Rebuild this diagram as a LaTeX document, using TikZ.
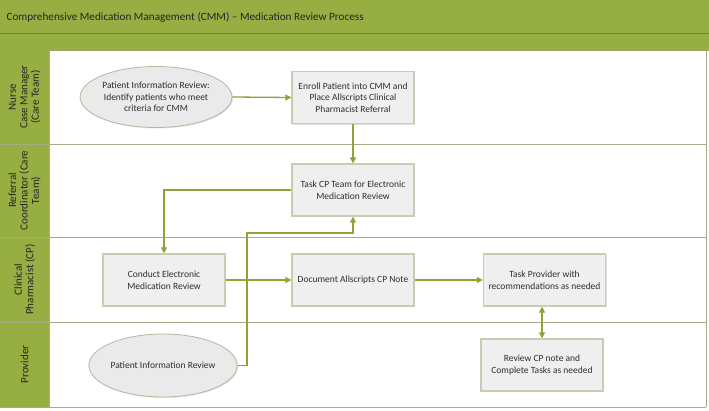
\documentclass[tikz,border=0pt]{standalone}
\usepackage{fontspec}
\setmainfont{Carlito}
\usetikzlibrary{arrows.meta,shapes.geometric,shadows}
\definecolor{olive}{HTML}{96AE42}
\definecolor{darkolive}{HTML}{6E8330}
\definecolor{laneline}{HTML}{A3AC86}
\definecolor{conn}{HTML}{8DA536}
\definecolor{boxfill}{HTML}{EFEFEF}
\definecolor{ovalfill}{HTML}{EAEAEA}
\definecolor{boxline}{HTML}{C8CCB2}
\definecolor{ovalline}{HTML}{B5B99C}
\definecolor{txt}{HTML}{2E2E2E}
\tikzset{
  stepbox/.style={draw=boxline, line width=1.2pt, fill=boxfill, minimum width=122pt, minimum height=52pt,
    align=center, font=\fontsize{9.5}{11.6}\selectfont, text=txt,
    drop shadow={shadow xshift=1pt, shadow yshift=-1pt, fill=black!25}},
  startoval/.style={ellipse, draw=ovalline, line width=0.8pt, fill=ovalfill, minimum width=132pt, minimum height=61pt,
    align=center, font=\fontsize{9.5}{11.6}\selectfont, text=txt, inner sep=0pt,
    drop shadow={shadow xshift=1pt, shadow yshift=-1pt, fill=black!20}},
  lanelabel/.style={rotate=90, align=center, font=\fontsize{11}{11.5}\selectfont, text=black!85},
  flow/.style={draw=conn, line width=1.3pt, -{Triangle[width=6pt,length=6pt]}},
  biflow/.style={draw=conn, line width=1.3pt, {Triangle[width=6pt,length=6pt]}-{Triangle[width=6pt,length=6pt]}},
}
\begin{document}
\begin{tikzpicture}[x=1pt,y=-1pt]
\useasboundingbox (0,0) rectangle (709,410);
\fill[white] (0,0) rectangle (709,410);
% header bars
\fill[olive] (0,0) rectangle (709,50);
\draw[darkolive, line width=1pt] (0,33) -- (709,33);
\draw[darkolive!70, line width=0.8pt] (0,50) -- (709,50);
\node[anchor=west, font=\fontsize{11.2}{13}\selectfont, text=black!85] (title) at (3,17) {Comprehensive Medication Management (CMM) -- Medication Review Process};
% lane label column
\fill[olive] (0,50) rectangle (49,407);
% lane lines
\draw[laneline, line width=1pt] (0,144) -- (706,144);
\draw[laneline, line width=1pt] (0,237) -- (706,237);
\draw[laneline, line width=1pt] (0,322) -- (706,322);
\draw[laneline, line width=1pt] (0,407) -- (706,407);
\draw[laneline, line width=1pt] (706,50) -- (706,407);
\draw[laneline, line width=1pt] (49,50) -- (49,407);
% lane labels
\node[lanelabel] (l1) at (24.5,97) {Nurse\\Case Manager\\(Care Team)};
\node[lanelabel] (l2) at (24.5,190.5) {Referral\\Coordinator (Care\\Team)};
\node[lanelabel] (l3) at (24.5,279.5) {Clinical\\Pharmacist (CP)};
\node[lanelabel] (l4) at (24.5,364.5) {Provider};
% nodes
\node[startoval] (pir1) at (156,97) {Patient Information Review:\\Identify patients who meet\\criteria for CMM};
\node[stepbox] (enroll) at (353,97.5) {Enroll Patient into CMM and\\Place Allscripts Clinical\\Pharmacist Referral};
\node[stepbox] (taskcp) at (353,190) {Task CP Team for Electronic\\Medication Review};
\node[stepbox] (conduct) at (164,280) {Conduct Electronic\\Medication Review};
\node[stepbox] (document) at (353,280) {Document Allscripts CP Note};
\node[stepbox] (taskprov) at (544.5,280) {Task Provider with\\recommendations as needed};
\node[stepbox] (review) at (542,365) {Review CP note and\\Complete Tasks as needed};
\node[startoval, minimum height=63pt] (pir2) at (163,365.5) {Patient Information Review};
% connectors
\draw[flow] (pir1.east) -- (enroll.west);
\draw[flow] (enroll.south) -- (taskcp.north);
\draw[flow] (taskcp.west) -| (conduct.north);
\draw[flow] (conduct.east) -- (document.west);
\draw[flow] (document.east) -- (taskprov.west);
\draw[biflow] (taskprov.south -| review.north) -- (review.north);
\coordinate (c1) at (247,365.5);
\coordinate (c2) at (247,233);
\draw[flow] (pir2.east) -- (c1) -- (c2) -| (taskcp.south);
\end{tikzpicture}
\end{document}
